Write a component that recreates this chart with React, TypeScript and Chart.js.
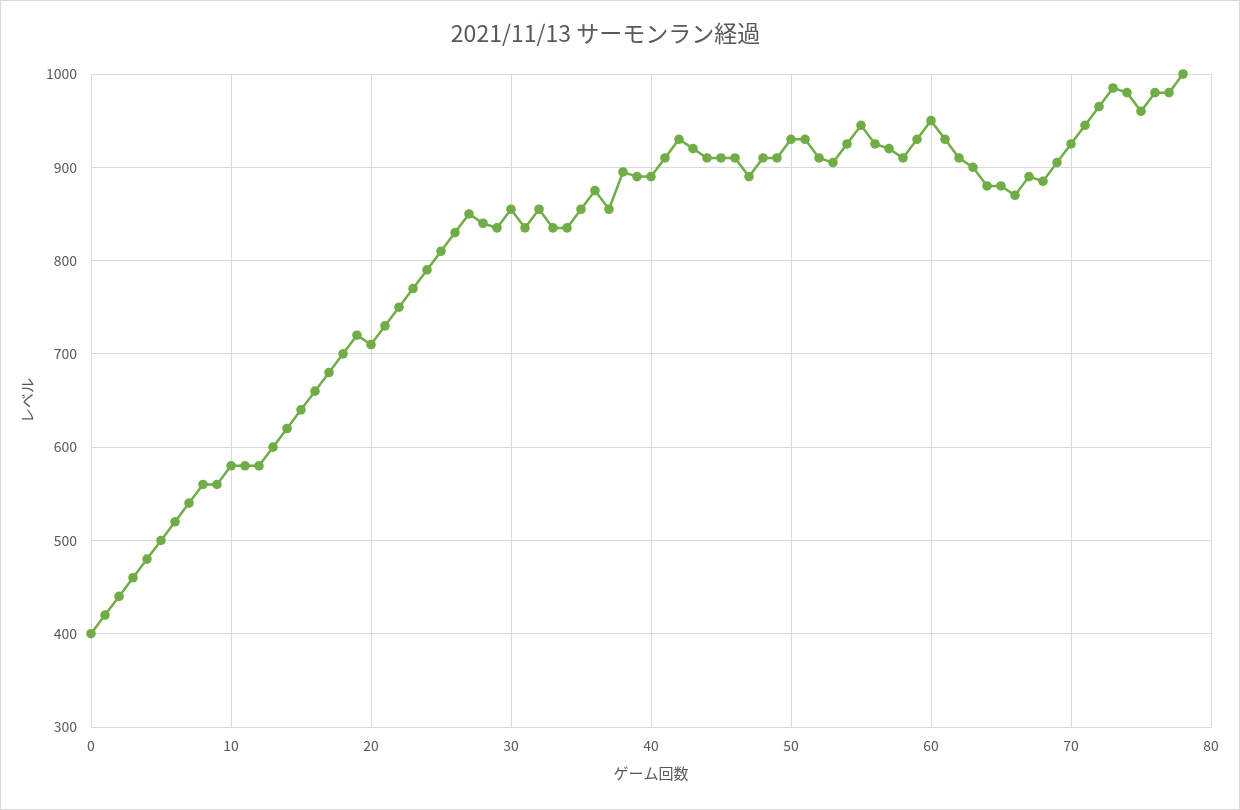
import Chart from "chart.js/auto";
import { useEffect, useRef } from "react";

const games: number[] = [
  0, 1, 2, 3, 4, 5, 6, 7, 8, 9, 10, 11, 12, 13, 14, 15, 16, 17, 18, 19, 20,
  21, 22, 23, 24, 25, 26, 27, 28, 29, 30, 31, 32, 33, 34, 35, 36, 37, 38, 39,
  40, 41, 42, 43, 44, 45, 46, 47, 48, 49, 50, 51, 52, 53, 54, 55, 56, 57, 58,
  59, 60, 61, 62, 63, 64, 65, 66, 67, 68, 69, 70, 71, 72, 73, 74, 75, 76, 77,
  78,
];

const levels: number[] = [
  400, 420, 440, 460, 480, 500, 520, 540, 560, 560, 580, 580, 580, 600, 620,
  640, 660, 680, 700, 720, 710, 730, 750, 770, 790, 810, 830, 850, 840, 835,
  855, 835, 855, 835, 835, 855, 875, 855, 895, 890, 890, 910, 930, 920, 910,
  910, 910, 890, 910, 910, 930, 930, 910, 905, 925, 945, 925, 920, 910, 930,
  950, 930, 910, 900, 880, 880, 870, 890, 885, 905, 925, 945, 965, 985, 980,
  960, 980, 980, 1000,
];

const titleText = "2021/11/13 サーモンラン経過";
const xTitle = "ゲーム回数";
const yTitle = "レベル";

const FONT = '"Noto Sans CJK JP", "Noto Sans", sans-serif';
const TEXT = "#595959";
const GRID = "#d9d9d9";
const GREEN = "#70ad47";

export default function App() {
  const canvasRef = useRef<HTMLCanvasElement | null>(null);
  const chartRef = useRef<Chart | null>(null);

  useEffect(() => {
    if (!canvasRef.current) {
      return;
    }
    if (chartRef.current) {
      chartRef.current.destroy();
    }

    chartRef.current = new Chart(canvasRef.current, {
      type: "line",
      data: {
        datasets: [
          {
            data: games.map((g, i) => ({ x: g, y: levels[i] })),
            borderColor: GREEN,
            backgroundColor: GREEN,
            borderWidth: 2.5,
            pointRadius: 4.8,
            pointBorderWidth: 0,
            pointBackgroundColor: GREEN,
            tension: 0,
            clip: false,
          },
        ],
      },
      options: {
        animation: false,
        responsive: false,
        layout: { padding: { left: 0, right: 29, top: 0, bottom: 0 } },
        plugins: {
          legend: { display: false },
          tooltip: { enabled: false },
          title: {
            display: true,
            text: titleText,
            color: TEXT,
            font: { family: FONT, size: 23, weight: "normal" },
            padding: { top: 19, bottom: 27.4 },
          },
        },
        scales: {
          x: {
            type: "linear",
            min: 0,
            max: 80,
            afterFit: (scale) => {
              scale.height = 83;
            },
            ticks: {
              stepSize: 10,
              color: TEXT,
              font: { family: FONT, size: 14 },
              padding: 10,
              maxRotation: 0,
              callback: (v) => String(v),
            },
            grid: { color: GRID, lineWidth: 1, drawTicks: false },
            border: { color: GRID, width: 1 },
            title: {
              display: true,
              text: xTitle,
              color: TEXT,
              font: { family: FONT, size: 15 },
              padding: { top: 0, bottom: 28 },
            },
          },
          y: {
            type: "linear",
            min: 300,
            max: 1000,
            afterFit: (scale) => {
              scale.width = 91;
            },
            ticks: {
              stepSize: 100,
              color: TEXT,
              font: { family: FONT, size: 14 },
              padding: 14,
              callback: (v) => String(v),
            },
            grid: { color: GRID, lineWidth: 1, drawTicks: false },
            border: { color: GRID, width: 1 },
            title: {
              display: true,
              text: yTitle,
              color: TEXT,
              font: { family: FONT, size: 15 },
              padding: { top: 18, bottom: 0 },
            },
          },
        },
      },
    });

    return () => {
      chartRef.current?.destroy();
      chartRef.current = null;
    };
  }, []);

  return (
    <div
      style={{
        position: "absolute",
        left: 0,
        top: 0,
        width: 1240,
        height: 810,
        background: "#fff",
        boxSizing: "border-box",
        border: "1px solid #d9d9d9",
      }}
    >
      <canvas
        ref={canvasRef}
        width={1240}
        height={810}
        style={{ position: "absolute", left: -1, top: -1, width: 1240, height: 810 }}
      />
    </div>
  );
}
